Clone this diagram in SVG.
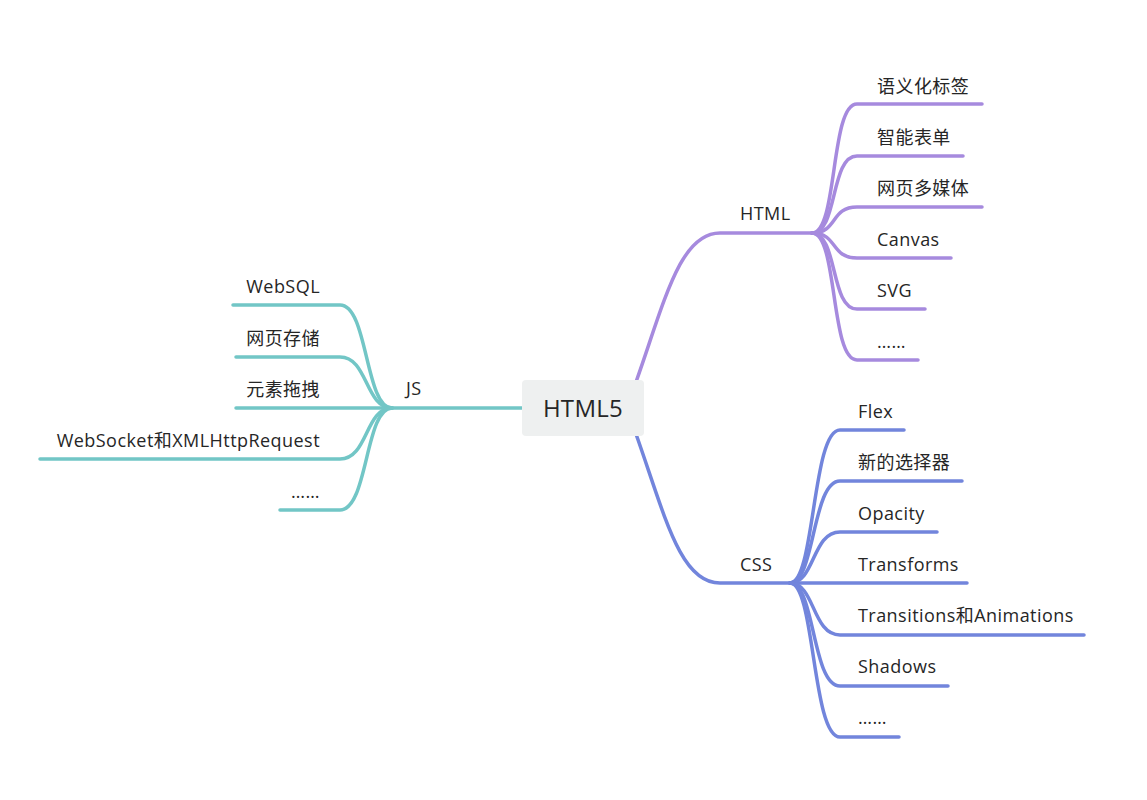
<svg xmlns="http://www.w3.org/2000/svg" width="1147" height="800" viewBox="0 0 1147 800">
<style>
.t{font-family:"Open Sans","Noto Sans CJK SC",sans-serif;font-size:18px;letter-spacing:0.45px;fill:#262626}
.r{font-family:"Open Sans","Noto Sans CJK SC",sans-serif;font-size:24px;letter-spacing:0.3px;fill:#262626}
.l{fill:none;stroke-width:3.5;stroke-linecap:round}
.h{stroke:#a68ade}
.c{stroke:#7285dc}
.j{stroke:#72c6c6}
</style>
<rect width="1147" height="800" fill="#ffffff"/>
<g id="connectors">
<path class="l h" d="M636,382 C665,300 680,233 720,233 L812,233"/>
<path class="l h" d="M812,233 C838,233 830,104 857,104 L982,104"/>
<path class="l h" d="M812,233 C838,233 830,156 857,156 L963,156"/>
<path class="l h" d="M812,233 C838,233 830,207 857,207 L982,207"/>
<path class="l h" d="M812,233 C838,233 830,258 857,258 L951,258"/>
<path class="l h" d="M812,233 C838,233 830,309 857,309 L925,309"/>
<path class="l h" d="M812,233 C838,233 830,360 857,360 L918,360"/>
<path class="l c" d="M636,434 C665,516 680,583 720,583 L790,583"/>
<path class="l c" d="M790,583 C815,583 812,430 840,430 L904,430"/>
<path class="l c" d="M790,583 C815,583 812,481 840,481 L962,481"/>
<path class="l c" d="M790,583 C815,583 812,532 840,532 L937,532"/>
<path class="l c" d="M790,583 L967,583"/>
<path class="l c" d="M790,583 C815,583 812,635 840,635 L1084,635"/>
<path class="l c" d="M790,583 C815,583 812,686 840,686 L948,686"/>
<path class="l c" d="M790,583 C815,583 812,737 840,737 L899,737"/>
<path class="l j" d="M522,408 L388,408"/>
<path class="l j" d="M392,408 C365,408 368,305 340,305 L233,305"/>
<path class="l j" d="M392,408 C365,408 368,357 340,357 L236,357"/>
<path class="l j" d="M392,408 L236,408"/>
<path class="l j" d="M392,408 C365,408 368,459 340,459 L40,459"/>
<path class="l j" d="M392,408 C365,408 368,510 340,510 L280,510"/>
</g>
<g id="root">
<rect x="522" y="380" width="122" height="56" rx="4" fill="#eef0f0"/>
<text class="r" x="583" y="417" text-anchor="middle">HTML5</text>
</g>
<g id="html"><text class="t" x="740" y="220">HTML</text></g>
<g id="h1"><text class="t" x="877" y="93">语义化标签</text></g>
<g id="h2"><text class="t" x="877" y="144">智能表单</text></g>
<g id="h3"><text class="t" x="877" y="195">网页多媒体</text></g>
<g id="h4"><text class="t" x="877" y="246">Canvas</text></g>
<g id="h5"><text class="t" x="877" y="297">SVG</text></g>
<g id="h6"><text class="t" x="877" y="348">……</text></g>
<g id="css"><text class="t" x="740" y="571">CSS</text></g>
<g id="c1"><text class="t" x="858" y="418">Flex</text></g>
<g id="c2"><text class="t" x="858" y="469">新的选择器</text></g>
<g id="c3"><text class="t" x="858" y="520">Opacity</text></g>
<g id="c4"><text class="t" x="858" y="571">Transforms</text></g>
<g id="c5"><text class="t" x="858" y="622">Transitions和Animations</text></g>
<g id="c6"><text class="t" x="858" y="673">Shadows</text></g>
<g id="c7"><text class="t" x="858" y="724">……</text></g>
<g id="js"><text class="t" x="406" y="395">JS</text></g>
<g id="j1"><text class="t" x="320" y="293" text-anchor="end">WebSQL</text></g>
<g id="j2"><text class="t" x="320" y="345" text-anchor="end">网页存储</text></g>
<g id="j3"><text class="t" x="320" y="396" text-anchor="end">元素拖拽</text></g>
<g id="j4"><text class="t" x="320" y="447" text-anchor="end">WebSocket和XMLHttpRequest</text></g>
<g id="j5"><text class="t" x="320" y="498" text-anchor="end">……</text></g>
</svg>
